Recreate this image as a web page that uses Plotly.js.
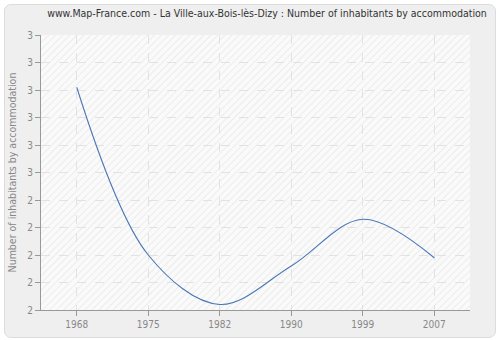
<!DOCTYPE html>
<html>
<head>
<meta charset="utf-8">
<script src="https://cdn.plot.ly/plotly-3.0.1.min.js"></script>
<style>
  html, body { margin: 0; padding: 0; background: #ffffff; }
  #frame { position: absolute; left: 4px; top: 4px; width: 490px; height: 332px;
           background: #efefef; border: 1px solid #dcdcdc; border-radius: 7px; }
  #chart { position: absolute; left: 0; top: 0; width: 500px; height: 340px; }
</style>
</head>
<body>
<div id="frame"></div>
<div id="chart"></div>
<script>
const years = ['1968', '1975', '1982', '1990', '1999', '2007'];
const inhabitantsPerAccommodation = [2.81, 2.2, 2.02, 2.16, 2.33, 2.19];
const titleText = 'www.Map-France.com - La Ville-aux-Bois-lès-Dizy : Number of inhabitants by accommodation';
const yTitle = 'Number of inhabitants by accommodation';

// hatch pattern for the plot background (decoration)
const hatchSvg =
  '<svg xmlns="http://www.w3.org/2000/svg" width="430" height="275">' +
  '<defs><pattern id="h" width="5" height="5" patternUnits="userSpaceOnUse" patternTransform="rotate(45)">' +
  '<rect width="5" height="5" fill="#fafafa"/><rect width="1" height="5" fill="#ececec"/></pattern></defs>' +
  '<rect width="430" height="275" fill="url(#h)"/></svg>';
const hatchUrl = 'data:image/svg+xml;charset=utf-8,' + encodeURIComponent(hatchSvg);

const traces = [
  {
    x: years, y: inhabitantsPerAccommodation,
    type: 'scatter', mode: 'lines',
    line: { color: '#4a78b5', width: 1.1, shape: 'spline', smoothing: 1 },
    showlegend: false
  }
];

const fontFam = 'DejaVu Sans Condensed, DejaVu Sans, sans-serif';

const layout = {
  width: 500, height: 340,
  margin: { l: 41, r: 30, t: 35, b: 30 },
  paper_bgcolor: 'rgba(0,0,0,0)',
  plot_bgcolor: '#fafafa',
  font: { family: fontFam, size: 10, color: '#888' },
  title: { text: titleText, x: 0.534, xanchor: 'center', y: 0.962, yanchor: 'middle',
           font: { family: fontFam, size: 10.5, color: '#333' } },
  images: [{
    source: hatchUrl, xref: 'paper', yref: 'paper', x: 0, y: 1,
    sizex: 1, sizey: 1, sizing: 'stretch', xanchor: 'left', yanchor: 'top', layer: 'below'
  }],
  xaxis: {
    type: 'category', range: [-0.5, 5.5],
    showgrid: true, gridcolor: '#e2e2e2', griddash: 'dash', gridwidth: 1,
    showline: true, linecolor: '#999', linewidth: 1,
    ticks: 'outside', ticklen: 5, tickcolor: '#999',
    tickfont: { size: 10, color: '#888' }, zeroline: false, fixedrange: true
  },
  yaxis: {
    range: [2, 3], dtick: 0.1, tick0: 2, tickformat: '.0f',
    showgrid: true, gridcolor: '#e2e2e2', griddash: 'dash', gridwidth: 1,
    showline: true, linecolor: '#999', linewidth: 1,
    ticks: 'outside', ticklen: 5, tickcolor: '#999',
    tickfont: { size: 10, color: '#888' }, zeroline: false,
    title: { text: yTitle, font: { size: 10.5, color: '#888' }, standoff: 8 },
    fixedrange: true
  }
};

Plotly.newPlot('chart', traces, layout, { displayModeBar: false, staticPlot: true });
</script>
</body>
</html>
